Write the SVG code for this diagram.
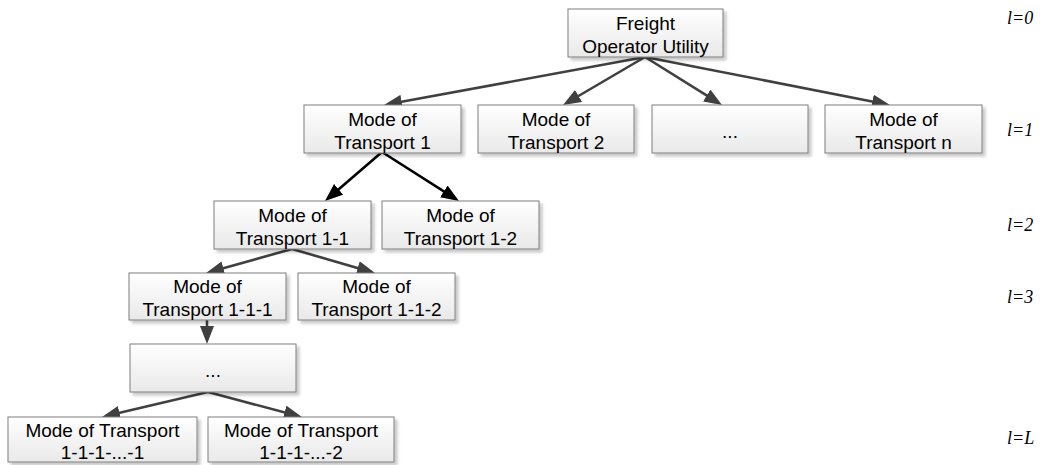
<svg xmlns="http://www.w3.org/2000/svg" width="1043" height="465" viewBox="0 0 1043 465">
  <style>
    .box { fill: url(#boxFill); stroke: #7f7f7f; stroke-width: 1; filter: url(#shadow); }
    .lbl { font-family: "Liberation Sans", Arial, sans-serif; font-size: 19px; fill: #000; text-anchor: middle; }
    .lvl { font-family: "Liberation Serif", "Times New Roman", serif; font-style: italic; font-size: 18px; fill: #000; }
    .edge { fill: none; stroke: #404040; stroke-width: 2.6; marker-end: url(#arrowGray); }
    .edge.dark { stroke: #000; marker-end: url(#arrowBlack); }
  </style>
  <defs>
    <linearGradient id="boxFill" x1="0" y1="0" x2="0" y2="1">
      <stop offset="0" stop-color="#ffffff"/>
      <stop offset="1" stop-color="#e9e9e9"/>
    </linearGradient>
    <filter id="shadow" x="-10%" y="-10%" width="130%" height="140%">
      <feGaussianBlur in="SourceAlpha" stdDeviation="1.5"/>
      <feOffset dx="3" dy="3" result="off"/>
      <feComponentTransfer><feFuncA type="linear" slope="0.22"/></feComponentTransfer>
      <feMerge><feMergeNode/><feMergeNode in="SourceGraphic"/></feMerge>
    </filter>
    <marker id="arrowGray" viewBox="0 0 18 14" refX="14" refY="7" markerWidth="18" markerHeight="14" markerUnits="userSpaceOnUse" orient="auto">
      <path d="M0,0 L18,7 L0,14 z" fill="#404040"/>
    </marker>
    <marker id="arrowBlack" viewBox="0 0 18 14" refX="14" refY="7" markerWidth="18" markerHeight="14" markerUnits="userSpaceOnUse" orient="auto">
      <path d="M0,0 L18,7 L0,14 z" fill="#000"/>
    </marker>
  </defs>

  <!-- hierarchy edges -->
  <g id="connectors">
    <path class="edge" d="M645,57 L387.9,104.3"/>
    <path class="edge" d="M645,57 L566.5,103"/>
    <path class="edge" d="M645,57 L718.6,102.9"/>
    <path class="edge" d="M645,57 L886.1,104.2"/>
    <path class="edge dark" d="M382,152 L328,198.4"/>
    <path class="edge dark" d="M382,152 L455.6,198.9"/>
    <path class="edge" d="M292,249 L209.9,271.9"/>
    <path class="edge" d="M292,249 L371.2,271.9"/>
    <path class="edge" d="M207,320 L207,340"/>
    <path class="edge" d="M208,392 L105.9,416.1"/>
    <path class="edge" d="M208,392 L298.1,416"/>
  </g>

  <!-- level 0 -->
  <g id="freight">
    <rect class="box" x="568" y="9" width="155" height="48"/>
    <text class="lbl" x="645.5" y="30">Freight</text>
    <text class="lbl" x="645.5" y="53">Operator Utility</text>
  </g>

  <!-- level 1 -->
  <g id="mode1">
    <rect class="box" x="304" y="105" width="157" height="48"/>
    <text class="lbl" x="382.5" y="126">Mode of</text>
    <text class="lbl" x="382.5" y="149">Transport 1</text>
  </g>
  <g id="mode2">
    <rect class="box" x="478" y="105" width="156" height="48"/>
    <text class="lbl" x="556" y="126">Mode of</text>
    <text class="lbl" x="556" y="149">Transport 2</text>
  </g>
  <g id="modeEllipsis">
    <rect class="box" x="652" y="105" width="156" height="48"/>
    <text class="lbl" x="730" y="138">...</text>
  </g>
  <g id="modeN">
    <rect class="box" x="825" y="105" width="157" height="48"/>
    <text class="lbl" x="903.5" y="126">Mode of</text>
    <text class="lbl" x="903.5" y="149">Transport n</text>
  </g>

  <!-- level 2 -->
  <g id="mode1-1">
    <rect class="box" x="214" y="201" width="157" height="48"/>
    <text class="lbl" x="292.5" y="222">Mode of</text>
    <text class="lbl" x="292.5" y="245">Transport 1-1</text>
  </g>
  <g id="mode1-2">
    <rect class="box" x="382" y="201" width="157" height="48"/>
    <text class="lbl" x="460.5" y="222">Mode of</text>
    <text class="lbl" x="460.5" y="245">Transport 1-2</text>
  </g>

  <!-- level 3 -->
  <g id="mode1-1-1">
    <rect class="box" x="129" y="273" width="157" height="47"/>
    <text class="lbl" x="207.5" y="293">Mode of</text>
    <text class="lbl" x="207.5" y="316">Transport 1-1-1</text>
  </g>
  <g id="mode1-1-2">
    <rect class="box" x="298" y="273" width="157" height="47"/>
    <text class="lbl" x="376.5" y="293">Mode of</text>
    <text class="lbl" x="376.5" y="316">Transport 1-1-2</text>
  </g>

  <!-- intermediate levels -->
  <g id="levelEllipsis">
    <rect class="box" x="130" y="344" width="166" height="48"/>
    <text class="lbl" x="213" y="377">...</text>
  </g>

  <!-- level L -->
  <g id="leaf1">
    <rect class="box" x="8" y="417" width="189" height="45"/>
    <text class="lbl" x="102.5" y="437">Mode of Transport</text>
    <text class="lbl" x="102.5" y="459">1-1-1-...-1</text>
  </g>
  <g id="leaf2">
    <rect class="box" x="208" y="417" width="186" height="45"/>
    <text class="lbl" x="301" y="437">Mode of Transport</text>
    <text class="lbl" x="301" y="459">1-1-1-...-2</text>
  </g>

  <!-- level annotations -->
  <g id="levels">
    <text class="lvl" x="1007" y="24">l=0</text>
    <text class="lvl" x="1007" y="136">l=1</text>
    <text class="lvl" x="1007" y="231">l=2</text>
    <text class="lvl" x="1007" y="303">l=3</text>
    <text class="lvl" x="1007" y="444">l=L</text>
  </g>
</svg>
